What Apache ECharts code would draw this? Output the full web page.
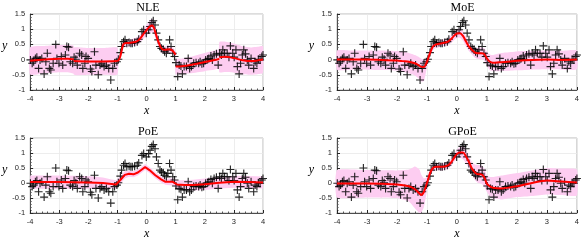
<!DOCTYPE html>
<html><head><meta charset="utf-8">
<script src="https://cdn.jsdelivr.net/npm/echarts@6/dist/echarts.min.js"></script>
<style>html,body{margin:0;padding:0;background:#fff}#c{width:582px;height:241px}</style>
</head><body><div id="c"></div>
<script>
// ---- shared observations ----
const obsX = [-3.99,-3.93,-3.88,-3.82,-3.77,-3.71,-3.66,-3.60,-3.52,-3.46,-3.41,-3.34,-3.29,-3.21,-3.12,-3.08,-3.01,-2.93,-2.88,-2.79,-2.74,-2.68,-2.62,-2.54,-2.49,-2.43,-2.38,-2.30,-2.23,-2.19,-2.12,-2.08,-2.01,-1.93,-1.88,-1.79,-1.74,-1.66,-1.60,-1.54,-1.46,-1.38,-1.30,-1.23,-1.16,-1.10,-1.02,-0.97,
 -0.90,-0.86,-0.79,-0.74,-0.68,-0.60,-0.54,-0.49,-0.41,-0.32,-0.27,
 -0.16,-0.10,-0.01,0.07,0.12,0.18,0.23,0.29,0.34,0.40,0.46,0.51,0.57,0.62,0.68,0.73,0.79,0.84,0.90,0.96,
 1.01,1.07,1.12,1.18,1.23,1.29,1.37,1.43,1.48,1.54,1.62,1.70,1.79,1.84,1.90,1.96,2.03,2.10,2.14,2.21,2.26,2.32,2.40,2.46,2.51,2.57,2.62,2.68,2.77,2.83,2.88,2.96,3.01,3.07,3.12,3.18,3.23,3.29,3.34,3.40,3.46,3.51,3.59,3.68,3.73,3.79,3.84,3.90,3.96,4.00];
const obsY = [-0.01,-0.12,-0.07,0.04,0.08,-0.29,-0.01,0.04,-0.47,-0.07,0.21,-0.29,-0.34,-0.12,0.50,0.04,-0.12,0.10,-0.18,0.15,0.43,0.41,-0.07,-0.12,0.08,0.01,-0.18,0.21,0.15,-0.29,-0.12,0.10,0.04,-0.31,-0.39,0.26,-0.18,-0.50,-0.18,-0.12,-0.23,-0.18,-0.29,-0.67,-0.29,-0.12,-0.07,0.01,
 0.23,0.43,0.59,0.65,0.54,0.56,0.54,0.54,0.56,0.59,0.67,
 0.92,0.98,0.87,0.98,1.09,1.22,1.28,1.14,0.87,0.65,0.43,0.37,0.34,0.26,0.21,0.32,0.65,0.43,0.21,0.10,
 -0.10,-0.56,-0.18,-0.21,-0.47,-0.23,-0.23,0.04,-0.29,-0.23,-0.12,-0.10,-0.12,-0.07,-0.14,-0.12,-0.01,0.01,0.04,0.12,-0.01,0.15,0.19,-0.18,0.21,0.15,0.32,0.21,0.21,0.08,0.45,0.21,0.08,0.32,-0.23,-0.47,-0.12,0.15,0.32,0.19,-0.01,-0.18,0.04,-0.29,-0.07,-0.12,0.01,-0.01,0.10,0.15];

// ---- NLE (piecewise segments) ----
const nleX1 = [-4,-3.5,-3,-2.7,-2.5];
const nleM1 = [-0.04,0.0,0.03,0.03,0.0];
const nleW1 = [0.45,0.45,0.45,0.45,0.45];
const nleX2 = [-2.5,-2,-1.5,-1];
const nleM2 = [-0.05,-0.06,-0.06,-0.05];
const nleW2 = [0.44,0.44,0.44,0.44];
const nleX3 = [-1,-0.95,-0.9,-0.85,-0.8,-0.7,-0.6,-0.5,-0.4,-0.3,-0.2,-0.1,0,0.1,0.2,0.25,0.3,0.4,0.5,0.6,0.7,0.8,0.9,1];
const nleM3 = [-0.05,0.0,0.12,0.32,0.5,0.55,0.55,0.56,0.58,0.62,0.72,0.85,0.97,1.08,1.12,1.05,0.9,0.6,0.38,0.32,0.33,0.34,0.28,0.16];
const nleW3 = [0.12,0.12,0.12,0.12,0.12,0.12,0.12,0.12,0.12,0.13,0.14,0.16,0.18,0.2,0.22,0.2,0.18,0.15,0.13,0.12,0.12,0.12,0.12,0.12];
const nleX4 = [1,1.2,1.5,2,2.5];
const nleM4 = [-0.23,-0.22,-0.18,-0.08,0.02];
const nleW4 = [0.25,0.25,0.27,0.3,0.3];
const nleX5 = [2.5,2.7,3,3.3,3.6,3.8,4];
const nleM5 = [0.08,0.09,0.05,-0.02,-0.05,-0.03,0.0];
const nleW5 = [0.5,0.5,0.48,0.46,0.45,0.45,0.44];

// ---- MoE ----
const moeX = [-4,-3.5,-3,-2.5,-2,-1.8,-1.6,-1.4,-1.3,-1.2,-1.1,-1.0,-0.9,-0.8,-0.7,-0.6,-0.5,-0.4,-0.3,-0.2,-0.1,0,0.1,0.2,0.3,0.4,0.5,0.6,0.7,0.8,0.9,1.0,1.1,1.2,1.4,1.6,2,2.5,3,3.5,4];
const moeM = [0,0,0,-0.01,-0.03,-0.05,-0.07,-0.12,-0.17,-0.23,-0.24,-0.07,0.21,0.43,0.5,0.52,0.54,0.56,0.59,0.67,0.78,0.86,0.87,0.78,0.6,0.43,0.32,0.23,0.21,0.21,0.19,0.04,-0.07,-0.1,-0.09,-0.08,-0.04,-0.01,0,-0.01,0];
const moeHi = [0.3,0.3,0.3,0.3,0.28,0.26,0.22,0.15,0.1,0.04,0.0,0.05,0.33,0.55,0.62,0.63,0.65,0.67,0.7,0.79,0.92,1.0,1.02,0.94,0.76,0.58,0.45,0.38,0.38,0.4,0.38,0.26,0.17,0.15,0.2,0.23,0.27,0.29,0.3,0.29,0.3];
const moeLo = [-0.33,-0.33,-0.33,-0.34,-0.36,-0.4,-0.45,-0.52,-0.6,-0.72,-0.7,-0.25,0.1,0.31,0.38,0.41,0.43,0.45,0.48,0.55,0.64,0.72,0.72,0.62,0.44,0.28,0.17,0.06,0.02,0.0,-0.02,-0.2,-0.35,-0.38,-0.38,-0.37,-0.35,-0.33,-0.32,-0.33,-0.32];

// ---- PoE ----
const poeX = [-4,-3,-2,-1.5,-1.2,-1.05,-0.9,-0.75,-0.6,-0.45,-0.3,-0.15,-0.05,0.1,0.3,0.5,0.65,0.9,1.05,1.3,1.6,2,2.5,3,3.5,4];
const poeM = [0.03,0.03,0.02,0.0,-0.03,-0.05,0.1,0.27,0.31,0.29,0.35,0.46,0.53,0.43,0.26,0.12,0.04,0.04,-0.05,-0.07,-0.07,-0.04,0.01,0.04,0.03,0.02];
const poeW = [0.22,0.22,0.21,0.18,0.15,0.14,0.13,0.12,0.1,0.1,0.1,0.1,0.1,0.1,0.1,0.1,0.1,0.12,0.14,0.16,0.18,0.19,0.19,0.2,0.2,0.2];

// ---- GPoE ----
const gpoeX = [-4,-3,-2,-1.6,-1.4,-1.25,-1.2,-1.1,-1.0,-0.9,-0.8,-0.7,-0.5,-0.3,-0.2,-0.1,0,0.1,0.2,0.3,0.4,0.5,0.6,0.7,0.8,0.9,1.0,1.1,1.2,1.5,1.8,2,2.5,3,3.5,4];
const gpoeM = [-0.02,-0.02,-0.05,-0.11,-0.21,-0.35,-0.4,-0.29,0.0,0.32,0.5,0.54,0.54,0.59,0.68,0.83,0.97,1.02,1.02,0.89,0.7,0.48,0.35,0.29,0.29,0.21,-0.03,-0.11,-0.16,-0.18,-0.14,-0.11,0.0,0.08,0.05,0.02];
const gpoeHi = [0.43,0.43,0.42,0.45,0.55,0.45,0.3,0.15,0.2,0.45,0.62,0.66,0.66,0.71,0.8,0.96,1.12,1.2,1.25,1.12,0.9,0.7,0.62,0.6,0.6,0.5,0.25,0.2,0.2,0.25,0.3,0.33,0.42,0.5,0.48,0.45];
const gpoeLo = [-0.48,-0.48,-0.5,-0.62,-0.85,-1.0,-1.0,-0.8,-0.25,0.2,0.38,0.42,0.42,0.47,0.56,0.7,0.82,0.85,0.8,0.66,0.5,0.3,0.1,0.0,-0.02,-0.1,-0.3,-0.45,-0.52,-0.55,-0.5,-0.47,-0.43,-0.38,-0.4,-0.42];

const titles = ['NLE','MoE','PoE','GPoE'];
const xTicks = [-4,-3,-2,-1,0,1,2,3,4];
const yTicks = [-1,-0.5,0,0.5,1,1.5];

// ---- build ----
const zip = (a,b) => a.map((v,i)=>[v,b[i]]);
const seg = (x,m,lo,hi) => ({line: zip(x,m), lo: zip(x,lo), hi: zip(x,hi)});
const segW = (x,m,w) => seg(x,m,m.map((v,i)=>v-w[i]),m.map((v,i)=>v+w[i]));

const panels = [
  {segs:[segW(nleX1,nleM1,nleW1),segW(nleX2,nleM2,nleW2),segW(nleX3,nleM3,nleW3),segW(nleX4,nleM4,nleW4),segW(nleX5,nleM5,nleW5)], smooth:0.3},
  {segs:[seg(moeX,moeM,moeLo,moeHi)], smooth:0.3},
  {segs:[segW(poeX,poeM,poeW)], smooth:0},
  {segs:[seg(gpoeX,gpoeM,gpoeLo,gpoeHi)], smooth:0.3}
];
const grids = [
  {left:23, top:14, width:240, height:76},
  {left:337, top:14, width:241, height:76},
  {left:23, top:138, width:240, height:79},
  {left:337, top:138, width:241, height:78}
];
const axisCol = '#262626';
const font = 'Liberation Sans, Arial, sans-serif';
const serif = 'Liberation Serif, Times New Roman, serif';

const option = {animation:false, backgroundColor:'#fff',
  title: grids.map((g,i)=>({text:titles[i], left:g.left+g.width/2, top:g.top-17, textAlign:'center',
    textStyle:{fontFamily:serif, fontSize:12, fontWeight:'normal', color:'#000'}})),
  grid: grids.map(g=>Object.assign({show:true, borderColor:'#aaaaaa', borderWidth:0.8, backgroundColor:'transparent'}, g)),
  xAxis: grids.map((g,i)=>({type:'value', gridIndex:i, min:xTicks[0], max:xTicks[xTicks.length-1], interval:1,
    name:'x', nameLocation:'middle', nameGap:15,
    nameTextStyle:{fontFamily:serif, fontStyle:'italic', fontSize:12, color:'#000'},
    axisLine:{onZero:false, lineStyle:{color:axisCol, width:0.8}},
    axisTick:{inside:true, length:3, lineStyle:{color:axisCol}},
    minorTick:{show:true, splitNumber:5, length:1.5, lineStyle:{color:'#555'}},
    axisLabel:{fontSize:7.5, fontFamily:font, color:axisCol, margin:5},
    splitLine:{show:true, lineStyle:{color:'#e8e8e8', width:0.8}}})),
  yAxis: grids.map((g,i)=>({type:'value', gridIndex:i, min:yTicks[0], max:yTicks[yTicks.length-1], interval:0.5,
    name:'y', nameLocation:'middle', nameRotate:0, nameGap:16,
    nameTextStyle:{fontFamily:serif, fontStyle:'italic', fontSize:12, color:'#000', verticalAlign:'bottom'},
    axisLine:{onZero:false, lineStyle:{color:axisCol, width:0.8}},
    axisTick:{inside:true, length:3, lineStyle:{color:axisCol}},
    minorTick:{show:true, splitNumber:5, length:1.5, lineStyle:{color:'#555'}},
    axisLabel:{fontSize:7.5, fontFamily:font, color:axisCol, margin:5},
    splitLine:{show:true, lineStyle:{color:'#e8e8e8', width:0.8}}})),
  series: []
};

const plusPath = 'path://M4.3,0H5.7V4.3H10V5.7H5.7V10H4.3V5.7H0V4.3H4.3Z';
panels.forEach((p,i)=>{
  p.segs.forEach(s=>{
    option.series.push({type:'custom', xAxisIndex:i, yAxisIndex:i, silent:true, z:1, data:[0],
      renderItem:(params, api)=>{
        const pts = s.hi.map(d=>api.coord(d)).concat(s.lo.slice().reverse().map(d=>api.coord(d)));
        return {type:'polygon', shape:{points:pts, smooth: p.smooth ? 0.15 : 0}, style:{fill:'#fdcdf1', stroke:null}};
      }});
  });
  option.series.push({type:'scatter', xAxisIndex:i, yAxisIndex:i, z:2, symbol:plusPath, symbolSize:8,
    itemStyle:{color:'#000', opacity:0.85}, data:zip(obsX,obsY)});
  p.segs.forEach(s=>{
    option.series.push({type:'line', xAxisIndex:i, yAxisIndex:i, z:3, showSymbol:false, smooth:p.smooth,
      lineStyle:{color:'#ff0000', width:2}, data:s.line});
  });
});

const chart = echarts.init(document.getElementById('c'), null, {renderer:'canvas'});
chart.setOption(option);
</script></body></html>
